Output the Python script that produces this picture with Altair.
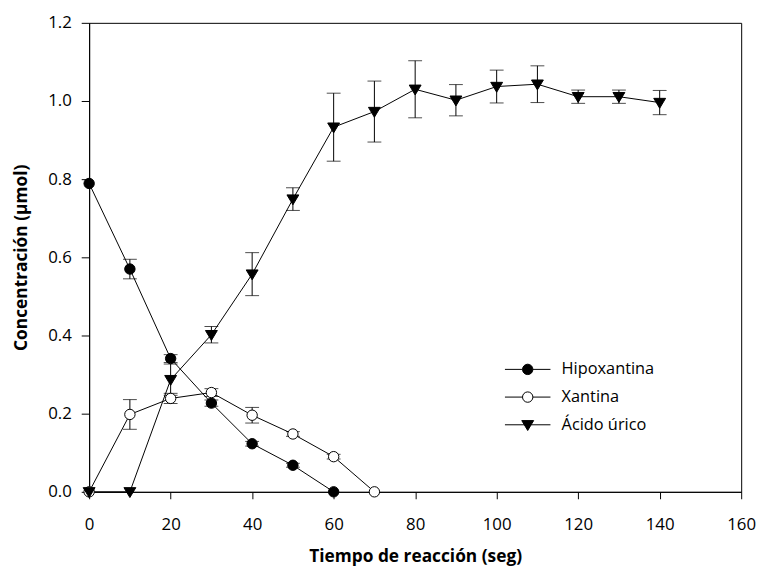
import altair as alt
import pandas as pd

series_names = ["Hipoxantina", "Xantina", "Ácido úrico"]

hipox_t = [0, 10, 20, 30, 40, 50, 60]
hipox_v = [0.789, 0.570, 0.341, 0.227, 0.123, 0.068, 0.0]
hipox_e = [0.0, 0.025, 0.010, 0.008, 0.006, 0.005, 0.0]

xant_t = [0, 10, 20, 30, 40, 50, 60, 70]
xant_v = [0.0, 0.198, 0.239, 0.254, 0.196, 0.148, 0.090, 0.0]
xant_e = [0.0, 0.038, 0.013, 0.010, 0.020, 0.006, 0.006, 0.0]

urico_t = [0, 10, 20, 30, 40, 50, 60, 70, 80, 90, 100, 110, 120, 130, 140]
urico_v = [0.0, 0.0, 0.287, 0.402, 0.557, 0.749, 0.933, 0.973, 1.030, 1.002,
           1.037, 1.043, 1.011, 1.011, 0.996]
urico_e = [0.0, 0.0, 0.040, 0.021, 0.055, 0.029, 0.087, 0.078, 0.073, 0.040,
           0.042, 0.047, 0.017, 0.017, 0.031]

x_ticks = [0, 20, 40, 60, 80, 100, 120, 140, 160]
y_ticks = [0.0, 0.2, 0.4, 0.6, 0.8, 1.0, 1.2]

rows = []
for i, (name, ts, vs, es) in enumerate([
    (series_names[0], hipox_t, hipox_v, hipox_e),
    (series_names[1], xant_t, xant_v, xant_e),
    (series_names[2], urico_t, urico_v, urico_e),
]):
    for t, v, e in zip(ts, vs, es):
        rows.append(dict(series=name, ord=i, t=t, v=v, lo=v - e, hi=v + e, err=e))
df = pd.DataFrame(rows)

circle = "M1.05,0A1.05,1.05 0 1,1 -1.05,0A1.05,1.05 0 1,1 1.05,0Z"
tri = "M-1.2,-0.85L1.2,-0.85L0,1.15Z"
marker_paths = [circle, circle, tri]
legend_paths = [
    "M-4.6,0H-1.05M1.05,0H4.6" + circle,
    "M-4.6,0H-1.05M1.05,0H4.6" + circle,
    "M-4.6,0H4.6" + tri,
]
fills = ["black", "white", "black"]
strokes = ["black", "black", "black"]

FONT = "Open Sans"

x_axis = alt.Axis(values=x_ticks, title="Tiempo de reacción (seg)", grid=False,
                  tickSize=7, labelPadding=18, titlePadding=15, labelFlush=False)
y_axis = alt.Axis(values=y_ticks, format=".1f", title="Concentración (µmol)", grid=False,
                  tickSize=8, labelPadding=10, titlePadding=17, labelFlush=False)
xs = alt.Scale(domain=[0, 160], nice=False)
ys = alt.Scale(domain=[0, 1.2], nice=False)


def X(f):
    return alt.X(f, scale=xs, axis=x_axis)


def Y(f):
    return alt.Y(f, scale=ys, axis=y_axis)


base = alt.Chart(df)
errs = base.transform_filter("datum.err > 0")

rules = errs.mark_rule(color="black", strokeWidth=1).encode(
    x=X("t:Q"), y=Y("lo:Q"), y2="hi:Q")
cap_hi = errs.mark_tick(color="black", orient="horizontal", size=14, thickness=1).encode(
    x=X("t:Q"), y=Y("hi:Q"))
cap_lo = errs.mark_tick(color="black", orient="horizontal", size=14, thickness=1).encode(
    x=X("t:Q"), y=Y("lo:Q"))

lines = base.mark_line(color="black", strokeWidth=1).encode(
    x=X("t:Q"), y=Y("v:Q"), detail="series:N", order="t:Q")

points = base.mark_point(filled=False, stroke="black", strokeWidth=1, opacity=1, size=100).encode(
    x=X("t:Q"), y=Y("v:Q"),
    shape=alt.Shape("series:N", scale=alt.Scale(domain=series_names, range=marker_paths), legend=None),
    fill=alt.Fill("series:N", scale=alt.Scale(domain=series_names, range=fills), legend=None),
    order="ord:Q",
)

leg = alt.Legend(title=None, orient="none", legendX=435, legendY=342, symbolSize=100,
                 symbolStrokeColor="black", symbolStrokeWidth=1, labelFontSize=16.5,
                 labelFont=FONT, labelColor="black", labelOffset=26, rowPadding=11,
                 padding=0, symbolOpacity=1)
legend_layer = base.mark_point(filled=False, strokeWidth=1, opacity=0, size=100).encode(
    x=X("t:Q"), y=Y("v:Q"),
    shape=alt.Shape("series:N", scale=alt.Scale(domain=series_names, range=legend_paths), legend=leg),
    fill=alt.Fill("series:N", scale=alt.Scale(domain=series_names, range=fills), legend=leg),
    stroke=alt.Stroke("series:N", scale=alt.Scale(domain=series_names, range=strokes), legend=leg),
)

chart = alt.layer(rules, cap_hi, cap_lo, lines, points, legend_layer).resolve_scale(
    shape="independent", fill="independent", stroke="independent"
).properties(
    width=659, height=474, autosize="none",
    padding={"left": 82, "top": 12, "right": 17, "bottom": 75},
).configure(font=FONT).configure_view(
    stroke="black", strokeWidth=1
).configure_axis(
    domainColor="black", tickColor="black", labelColor="black", titleColor="black",
    labelFontSize=17, titleFontSize=17.5, titleFontWeight="bold", labelFont=FONT, titleFont=FONT,
    domainWidth=1, tickWidth=1,
)

chart.save("out.html", embed_options={"renderer": "svg", "actions": False})
